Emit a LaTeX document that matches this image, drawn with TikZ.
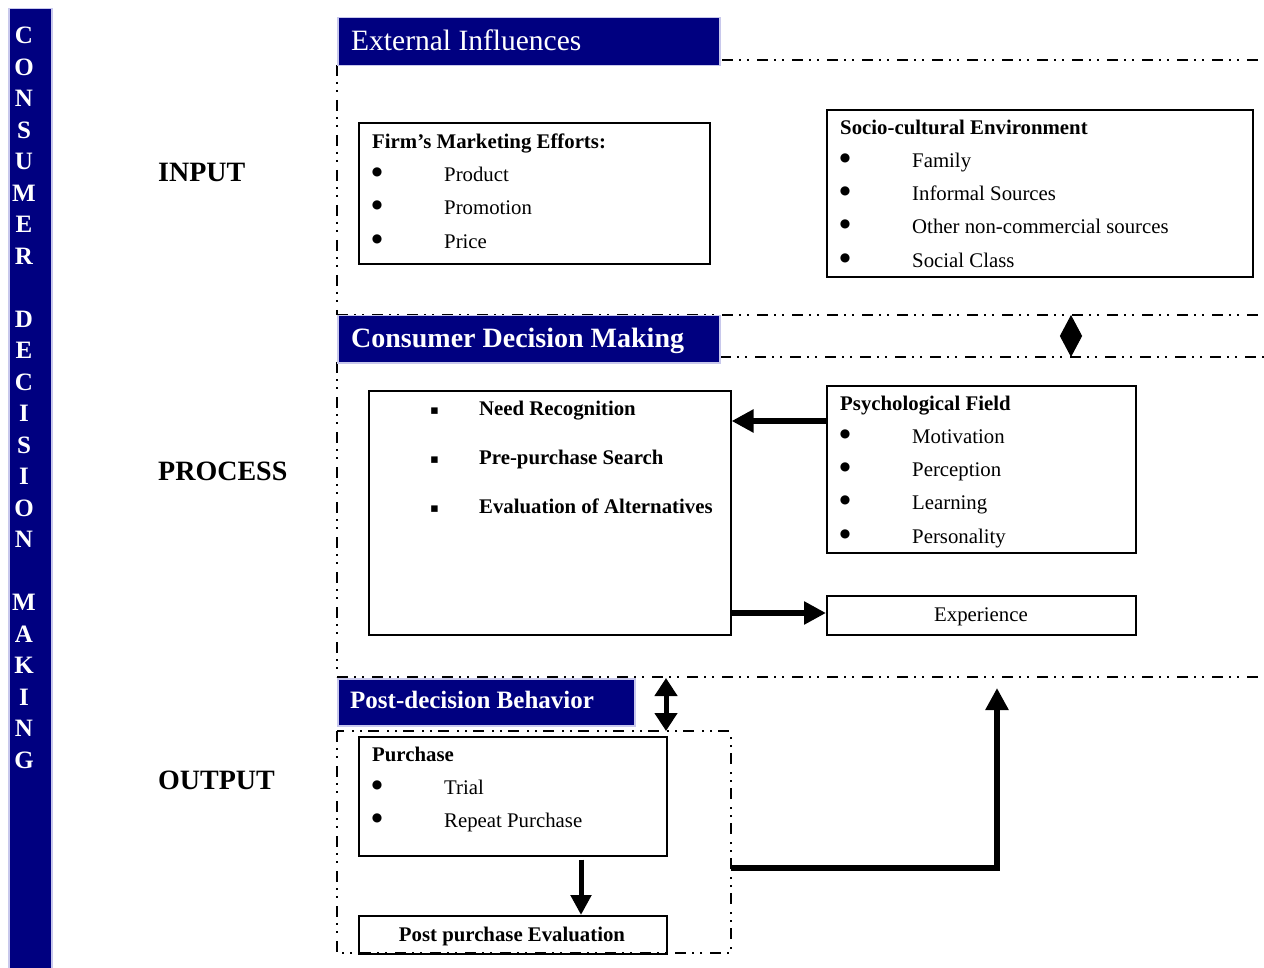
\documentclass[tikz,border=0pt]{standalone}
\usepackage{fontspec}
\setmainfont{Liberation Serif}
\newfontfamily\dvfont{DejaVu Sans}
\usetikzlibrary{arrows.meta}
\definecolor{navy}{HTML}{000080}
\definecolor{lav}{HTML}{C8C8EC}
\begin{document}
\begin{tikzpicture}[x=1pt,y=-1pt,
  box/.style={draw, line width=1.6pt, anchor=north west, inner sep=0pt},
  hdr/.style={draw=lav, fill=navy, line width=1.5pt, anchor=north west, inner sep=0pt},
  txt/.style={anchor=west, inner sep=0pt, yshift=-4pt, text height=0.7em, text depth=0.2em, font=\fontsize{20.8}{24}\selectfont},
  btxt/.style={txt, font=\fontsize{20.8}{24}\selectfont\bfseries},
  bul/.style={anchor=center, inner sep=0pt, font=\dvfont\fontsize{12}{14}\selectfont},
  htxt/.style={anchor=west, inner sep=0pt, yshift=-7pt, text=white, text height=0.7em, text depth=0.2em},
  stage/.style={anchor=west, inner sep=0pt, yshift=-7pt, text height=0.7em, text depth=0.2em, font=\fontsize{28}{32}\selectfont\bfseries},
  side/.style={inner sep=0pt, text=white, font=\fontsize{25}{28}\selectfont\bfseries},
  dd/.style={line width=1.6pt, dash pattern=on 11pt off 6pt on 2pt off 6pt on 2pt off 8pt},
  bigarrow/.style={line width=6pt, -{Triangle[length=22pt,width=22pt]}},
]
\useasboundingbox (0,0) rectangle (1264,968);

% sidebar
\node[hdr, minimum width=43pt, minimum height=962pt] (bar) at (8,8) {};
\foreach \ch/\yy/\nm in {C/35/s1,O/67/s2,N/98/s3,S/130/s4,U/161/s5,M/193/s6,E/224/s7,R/256/s8,
  D/319/s9,E/350/s10,C/382/s11,I/413/s12,S/445/s13,I/476/s14,O/508/s15,N/539/s16,
  M/602/s17,A/634/s18,K/665/s19,I/697/s20,N/728/s21,G/760/s22}
  \node[side] (\nm) at (24,\yy) {\ch};

% stage labels
\node[stage] (input) at (158,172) {INPUT};
\node[stage] (process) at (158,471) {PROCESS};
\node[stage] (output) at (158,780) {OUTPUT};

% dash-dot frame lines
\draw[dd] (722,60) -- (1264,60);
\draw[dd] (337,65) -- (337,315);
\draw[dd] (337,315) -- (1264,315);
\draw[dd] (720,357) -- (1264,357);
\draw[dd] (337,362) -- (337,677);
\draw[dd] (337,677) -- (1264,677);
\draw[dd] (337,731) rectangle (731,953);

% headers
\node[hdr, minimum width=382pt, minimum height=48pt] (hext) at (337,17) {};
\node[htxt, font=\fontsize{29.5}{33}\selectfont] (hextt) at (351,41) {External Influences};
\node[hdr, minimum width=382pt, minimum height=47pt] (hcdm) at (337,315) {};
\node[htxt, font=\fontsize{28}{32}\selectfont\bfseries] (hcdmt) at (351,338) {Consumer Decision Making};
\node[hdr, minimum width=297pt, minimum height=47pt] (hpdb) at (337,678) {};
\node[htxt, font=\fontsize{25}{29}\selectfont\bfseries] (hpdbt) at (350,699) {Post-decision Behavior};

% Firm's marketing efforts
\node[box, minimum width=351pt, minimum height=141pt] (firm) at (358,122) {};
\node[btxt] (firmt) at (372,142) {Firm’s Marketing Efforts:};
\foreach \yy/\tx/\nm in {175/Product/f1,208/Promotion/f2,242/Price/f3}{
  \node[bul] (\nm b) at (377,\yy-3) {●};
  \node[txt] (\nm) at (444,\yy) {\tx};
}

% Socio-cultural environment
\node[box, minimum width=426pt, minimum height=167pt] (socio) at (826,109) {};
\node[btxt] (sociot) at (840,128) {Socio-cultural Environment};
\foreach \yy/\tx/\nm in {161/Family/c1,194/Informal Sources/c2,227/Other non-commercial sources/c3,261/Social Class/c4}{
  \node[bul] (\nm b) at (845,\yy-3) {●};
  \node[txt] (\nm) at (912,\yy) {\tx};
}

% process box
\node[box, minimum width=362pt, minimum height=244pt] (proc) at (368,390) {};
\foreach \yy/\tx/\nm in {409/Need Recognition/p1,458/Pre-purchase Search/p2,507/Evaluation of Alternatives/p3}{
  \node[txt, font=\dvfont\fontsize{13}{15}\selectfont] (\nm b) at (430,\yy-1) {▪};
  \node[btxt] (\nm) at (479,\yy) {\tx};
}

% psychological field
\node[box, minimum width=309pt, minimum height=167pt] (psych) at (826,385) {};
\node[btxt] (psycht) at (840,404) {Psychological Field};
\foreach \yy/\tx/\nm in {437/Motivation/q1,470/Perception/q2,503/Learning/q3,537/Personality/q4}{
  \node[bul] (\nm b) at (845,\yy-3) {●};
  \node[txt] (\nm) at (912,\yy) {\tx};
}

% experience
\node[box, minimum width=309pt, minimum height=39pt] (exp) at (826,595) {};
\node[txt, anchor=center] (expt) at (981,615) {Experience};

% purchase
\node[box, minimum width=308pt, minimum height=119pt] (purch) at (358,736) {};
\node[btxt] (purcht) at (372,755) {Purchase};
\foreach \yy/\tx/\nm in {788/Trial/r1,821/Repeat Purchase/r2}{
  \node[bul] (\nm b) at (377,\yy-3) {●};
  \node[txt] (\nm) at (444,\yy) {\tx};
}

% post purchase evaluation
\node[box, minimum width=308pt, minimum height=38pt] (ppe) at (358,915) {};
\node[btxt, anchor=center] (ppet) at (512,935) {Post purchase Evaluation};

% connectors
\draw[bigarrow] (psych.west |- 0,421) -- (proc.east |- 0,421);
\draw[bigarrow] (proc.east |- 0,613) -- (exp.west |- 0,613);
\draw[line width=5pt, -{Triangle[length=20pt,width=20pt]}] (purch.south -| 581,0) ++(0,3) -- (ppe.north -| 581,0);
\coordinate (fbtip) at (997,688);
\coordinate (fbcorner) at (997,868);
\draw[line width=6pt, -{Triangle[length=22pt,width=22pt]}] (731,868) -- (fbcorner.center) -- (fbtip);
\coordinate (d1) at (1071,315);
\coordinate (d2) at (1071,357);
\draw[line width=1pt, {Triangle[length=21pt,width=22pt]}-{Triangle[length=21pt,width=22pt]}] (d1) -- (d2);
\coordinate (e1) at (666,678);
\coordinate (e2) at (666,731);
\draw[line width=5pt, {Triangle[length=18pt,width=22pt]}-{Triangle[length=18pt,width=22pt]}] (e1) -- (e2);
\end{tikzpicture}
\end{document}
